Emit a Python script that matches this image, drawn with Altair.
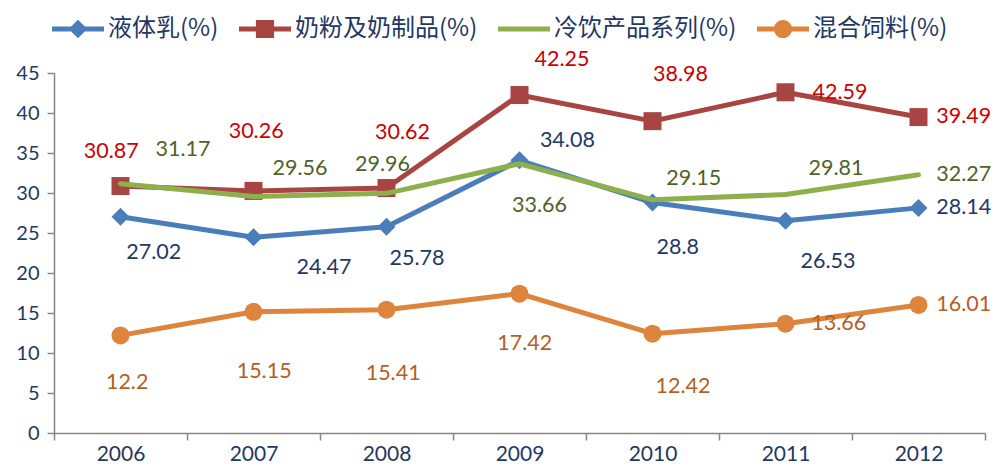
import altair as alt
import pandas as pd

years = [2006, 2007, 2008, 2009, 2010, 2011, 2012]
series_names = ["液体乳(%)", "奶粉及奶制品(%)", "冷饮产品系列(%)", "混合饲料(%)"]

liquid = [27.02, 24.47, 25.78, 34.08, 28.8, 26.53, 28.14]
powder = [30.87, 30.26, 30.62, 42.25, 38.98, 42.59, 39.49]
cold = [31.17, 29.56, 29.96, 33.66, 29.15, 29.81, 32.27]
feed = [12.2, 15.15, 15.41, 17.42, 12.42, 13.66, 16.01]

# label placement offsets (x in years, y in value units) relative to each point
liquid_ldx = [0.25, 0.53, 0.23, 0.36, 0.19, 0.32, 0.34]
liquid_ldy = [-4.56, -3.88, -4.0, 2.38, -5.63, -5.13, 0.0]
powder_ldx = [-0.07, 0.02, 0.12, 0.32, 0.21, 0.41, 0.34]
powder_ldy = [4.25, 7.38, 6.88, 4.38, 5.75, -0.13, 0.0]
cold_ldx = [0.47, 0.35, -0.03, 0.15, 0.31, 0.38, 0.34]
cold_ldy = [4.25, 3.5, 3.5, -5.25, 2.56, 3.25, 0.0]
feed_ldx = [0.05, 0.08, 0.05, 0.04, 0.23, 0.40, 0.34]
feed_ldy = [-6.0, -7.5, -8.0, -6.25, -6.63, 0.0, 0.0]

y_ticks = [0, 5, 10, 15, 20, 25, 30, 35, 40, 45]
x_bounds = [2005.5, 2006.5, 2007.5, 2008.5, 2009.5, 2010.5, 2011.5, 2012.5]

line_colors = ["#4A7EBB", "#A84542", "#8DB04D", "#DD843D"]
label_colors = ["#1F3864", "#CC0000", "#4F6228", "#B5601E"]
markers = ["diamond", "square", None, "circle"]
legend_paths = [
    "M-1,-0.096H1V0.096H-1Z M-0.36,0L0,-0.36L0.36,0L0,0.36Z",
    "M-1,-0.096H1V0.096H-1Z M-0.35,-0.35H0.35V0.35H-0.35Z",
    "M-1,-0.096H1V0.096H-1Z",
    "M-1,-0.096H1V0.096H-1Z M0.35,0A0.35,0.35 0 1,1 -0.35,0A0.35,0.35 0 1,1 0.35,0Z",
]

rows = []
for name, vals, ldx, ldy in zip(
    series_names,
    [liquid, powder, cold, feed],
    [liquid_ldx, powder_ldx, cold_ldx, feed_ldx],
    [liquid_ldy, powder_ldy, cold_ldy, feed_ldy],
):
    for yr, v, dx, dy in zip(years, vals, ldx, ldy):
        rows.append({"year": yr, "series": name, "value": v, "label": str(v), "ldx": dx, "ldy": dy})
df = pd.DataFrame(rows)

axis_color = "#868686"
text_color = "#1F3864"

x_axis = alt.Axis(
    values=x_bounds,
    labelExpr="datum.value > 2012 ? '' : '' + (datum.value + 0.5)",
    labelOffset=66.5,
    labelFlush=False,
    labelOverlap=False,
    labelBound=False,
    labelFont="Lato",
    labelFontSize=21,
    labelColor=text_color,
    labelPadding=3,
    domainColor=axis_color,
    domainWidth=1.5,
    tickColor=axis_color,
    tickWidth=1.5,
    tickSize=7,
    grid=False,
    title=None,
)
y_axis = alt.Axis(
    values=y_ticks,
    labelFont="Lato",
    labelFontSize=20,
    labelColor=text_color,
    labelPadding=8,
    domainColor=axis_color,
    domainWidth=1.5,
    tickColor=axis_color,
    tickWidth=1.5,
    tickSize=7,
    grid=False,
    title=None,
)
x_scale = alt.Scale(domain=[2005.5, 2012.5], nice=False, zero=False)
y_scale = alt.Scale(domain=[0, 45], nice=False)


def xenc(field):
    return alt.X(field, scale=x_scale, axis=x_axis)


def yenc(field):
    return alt.Y(field, scale=y_scale, axis=y_axis)


layers = []
for name, lc, mk in zip(series_names, line_colors, markers):
    base = alt.Chart(df).transform_filter(alt.datum.series == name)
    layers.append(
        base.mark_line(color=lc, strokeWidth=5, strokeJoin="round", strokeCap="round").encode(
            x=xenc("year:Q"), y=yenc("value:Q")
        )
    )
    if mk:
        layers.append(
            base.mark_point(filled=True, shape=mk, size=324, color=lc, opacity=1).encode(
                x=xenc("year:Q"), y=yenc("value:Q")
            )
        )

for name, tc in zip(series_names, label_colors):
    layers.append(
        alt.Chart(df)
        .transform_filter(alt.datum.series == name)
        .transform_calculate(lx="datum.year + datum.ldx", ly="datum.value + datum.ldy")
        .mark_text(font="Lato", fontSize=21.5, color=tc, align="center", baseline="middle")
        .encode(x=xenc("lx:Q"), y=yenc("ly:Q"), text="label:N")
    )

legend = alt.Legend(
    orient="none",
    legendX=-2,
    legendY=-70,
    direction="horizontal",
    title=None,
    symbolSize=2704,
    symbolStrokeWidth=0,
    symbolOpacity=1,
    labelFont="Noto Sans CJK SC",
    labelFontSize=24,
    labelColor=text_color,
    labelOffset=4,
    columnPadding=20,
    padding=0,
    labelLimit=400,
)
layers.append(
    alt.Chart(df)
    .transform_filter("false")
    .mark_point(filled=True, opacity=1)
    .encode(
        x=xenc("year:Q"),
        y=yenc("value:Q"),
        color=alt.Color("series:N", scale=alt.Scale(domain=series_names, range=line_colors), legend=legend),
        shape=alt.Shape("series:N", scale=alt.Scale(domain=series_names, range=legend_paths), legend=legend),
    )
)

chart = (
    alt.layer(*layers)
    .properties(
        width=931,
        height=360,
        padding={"left": 46, "top": 65, "right": 7, "bottom": 32},
        autosize=alt.AutoSizeParams(type="none"),
        background="white",
    )
    .configure_view(stroke=None)
)

chart.save("out.html", embed_options={"renderer": "svg", "actions": False})
